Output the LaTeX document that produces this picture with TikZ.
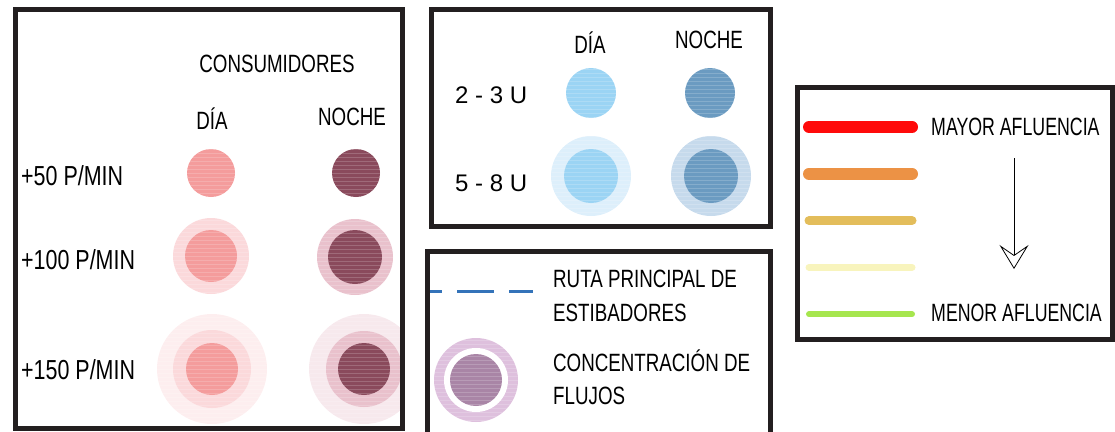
\documentclass[tikz,border=0pt]{standalone}
\usepackage{fontspec}
\setmainfont{Liberation Sans}
\newfontfamily\condfont{Liberation Sans}[FakeStretch=0.75]
\newfontfamily\estrechafont{Liberation Sans}[FakeStretch=0.71]
\newfontfamily\filafont{Liberation Sans}[FakeStretch=0.78]
\usetikzlibrary{arrows.meta, positioning}
\usepackage{xcolor}
\definecolor{marco}{HTML}{231F20}
\definecolor{diaIn}{HTML}{F49C9C}
\definecolor{diaMid}{HTML}{FBD9DB}
\definecolor{diaOut}{HTML}{FDEEEF}
\definecolor{nocIn}{HTML}{8A4A5C}
\definecolor{nocMid}{HTML}{E9C1CC}
\definecolor{nocOut}{HTML}{F7E9ED}
\definecolor{celIn}{HTML}{9BD4F4}
\definecolor{celOut}{HTML}{DDEFFB}
\definecolor{azuIn}{HTML}{6B9BC1}
\definecolor{azuOut}{HTML}{C6DAEC}
\definecolor{malvaIn}{HTML}{A985A6}
\definecolor{malvaOut}{HTML}{DEC0DD}
\definecolor{ruta}{HTML}{3473B9}
\definecolor{flujoA}{HTML}{FF0A0A}
\definecolor{flujoB}{HTML}{EC9245}
\definecolor{flujoC}{HTML}{E3BD5B}
\definecolor{flujoD}{HTML}{F8F4BD}
\definecolor{flujoE}{HTML}{A6E64E}
\tikzset{
  marcobox/.style = {draw=marco, line width=5pt},
  leyenda/.style = {inner sep=0pt, font=\condfont\fontsize{25}{30}\selectfont},
  afluencia/.style = {inner sep=0pt, font=\estrechafont\fontsize{25}{30}\selectfont},
  fila/.style = {inner sep=0pt, font=\filafont\fontsize{27.5}{32}\selectfont},
  rango/.style = {inner sep=0pt, font=\fontsize{24}{28}\selectfont},
  disco/.style = {circle, inner sep=0pt, minimum size=#1, path picture={
      \foreach \k in {-56,-52,...,56}
        \draw[white, opacity=0.18, line width=0.5pt]
          ([yshift=\k pt]path picture bounding box.west) -- ([yshift=\k pt]path picture bounding box.east);}},
  flecha/.style = {-{Stealth[open, length=24pt, width=29pt, inset=10pt]}, line width=0.8pt}
}
\begin{document}
\begin{tikzpicture}[x=1pt, y=-1pt]
\useasboundingbox (0,0) rectangle (1115,431);

% consumidores
\begin{scope}
\clip (15.5,9.5) rectangle (402.5,428);
\node[disco=48pt, fill=diaIn] (d50) at (211,173) {};
\node[disco=48pt, fill=nocIn] (n50) at (356,173) {};
\node[disco=76pt, fill=diaMid] (d100o) at (211,256) {};
\node[disco=52pt, fill=diaIn] (d100) at (d100o.center) {};
\node[disco=76pt, fill=nocMid] (n100o) at (355,257) {};
\node[disco=54pt, fill=nocIn] (n100) at (n100o.center) {};
\node[disco=110pt, fill=diaOut] (d150e) at (212,369) {};
\node[disco=78pt, fill=diaMid] (d150o) at (d150e.center) {};
\node[disco=52pt, fill=diaIn] (d150) at (d150e.center) {};
\node[disco=110pt, fill=nocOut] (n150e) at (364,369) {};
\node[disco=76pt, fill=nocMid] (n150o) at (n150e.center) {};
\node[disco=52pt, fill=nocIn] (n150) at (n150e.center) {};
\end{scope}
\draw[marcobox] (15.5,9.5) rectangle (402.5,428);

\node[leyenda, anchor=base] (cons) at (277,72) {CONSUMIDORES};
\node[leyenda, anchor=base] (dia1) at (212,129) {DÍA};
\node[leyenda, anchor=base] (noche1) at (352,125) {NOCHE};
\node[fila, anchor=base west] (p50) at (21,185) {+50 P/MIN};
\node[fila, anchor=base west] (p100) at (21,269) {+100 P/MIN};
\node[fila, anchor=base west] (p150) at (21,379) {+150 P/MIN};

% estibadores
\node[disco=50pt, fill=celIn] (d23) at (591,93) {};
\node[disco=50pt, fill=azuIn] (n23) at (710,93) {};
\node[disco=80pt, fill=celOut] (d58o) at (591,176) {};
\node[disco=54pt, fill=celIn] (d58) at (d58o.center) {};
\node[disco=80pt, fill=azuOut] (n58o) at (711,176) {};
\node[disco=54pt, fill=azuIn] (n58) at (n58o.center) {};
\draw[marcobox] (431.5,9.5) rectangle (770.5,226.5);

\node[leyenda, anchor=base] (dia2) at (590,53) {DÍA};
\node[leyenda, anchor=base] (noche2) at (709,48) {NOCHE};
\node[rango, anchor=base west] (u23) at (455,103) {2 - 3 U};
\node[rango, anchor=base west] (u58) at (455,191) {5 - 8 U};

% ruta y concentracion
\coordinate (rutaA) at (428,291);
\coordinate (rutaB) at (533,291);
\draw[ruta, line width=3pt, dash pattern=on 37pt off 15pt, dash phase=23pt] (rutaA) -- (rutaB);
\node[disco=84pt, fill=malvaOut] (concO) at (476,380) {};
\node[circle, inner sep=0pt, minimum size=64pt, fill=white] (concB) at (concO.center) {};
\node[disco=52pt, fill=malvaIn] (conc) at (concO.center) {};
\draw[marcobox] (427.5,445) -- (427.5,251.5) -- (770.5,251.5) -- (770.5,445);

\node[leyenda, anchor=base west] (ruta1) at (553,287) {RUTA PRINCIPAL DE};
\node[leyenda, anchor=base west] (ruta2) at (553,321) {ESTIBADORES};
\node[leyenda, anchor=base west] (conc1) at (553,371) {CONCENTRACIÓN DE};
\node[leyenda, anchor=base west] (conc2) at (553,404) {FLUJOS};

% afluencia
\foreach \col/\w [count=\i] in {flujoA/12, flujoB/12, flujoC/9, flujoD/7, flujoE/6}
  \draw[\col, line width=\w pt, line cap=round] (809,{127+46.8*(\i-1)}) -- (912,{127+46.8*(\i-1)});
\draw[marcobox] (797.5,87) rectangle (1112.5,339.5);

\node[afluencia, anchor=base west] (mayor) at (931,135) {MAYOR AFLUENCIA};
\node[afluencia, anchor=base west] (menor) at (931,321) {MENOR AFLUENCIA};
\coordinate (flechaA) at (1014,158);
\coordinate (flechaB) at (1014,269);
\draw[flecha] (flechaA) -- (flechaB);
\end{tikzpicture}
\end{document}
